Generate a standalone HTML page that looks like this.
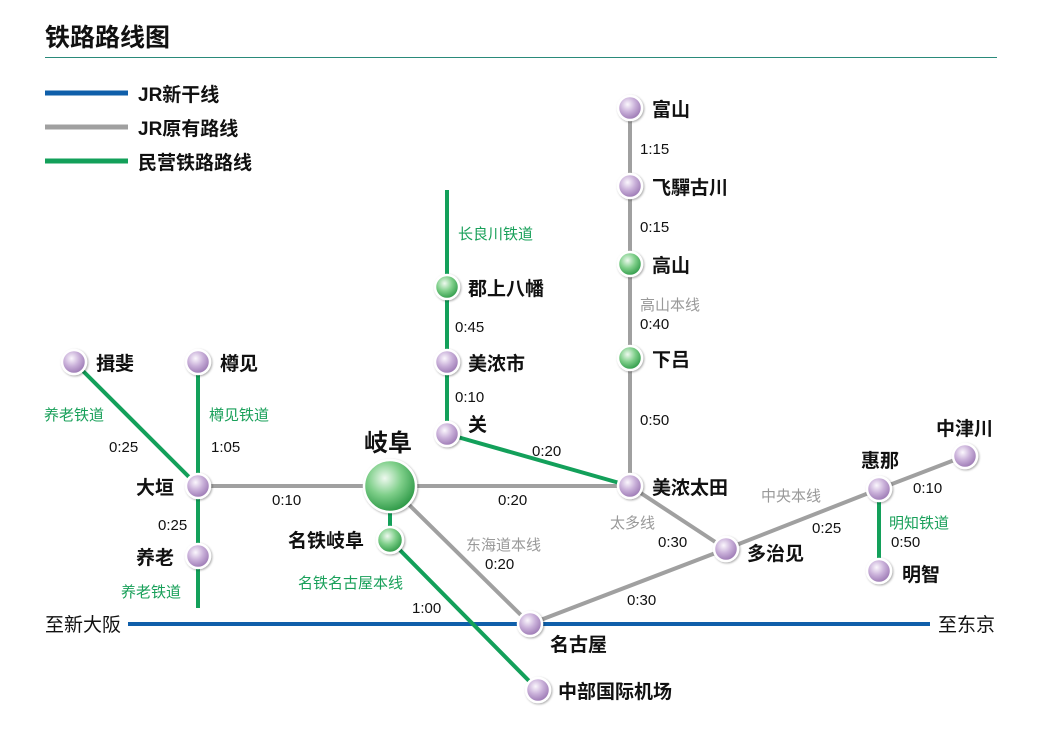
<!DOCTYPE html>
<html><head><meta charset="utf-8"><style>
html,body{margin:0;padding:0;background:#fff;width:1053px;height:735px;overflow:hidden}
svg{display:block;font-family:"Liberation Sans","Noto Sans CJK SC",sans-serif}
.n{font-size:19px;font-weight:bold;fill:#111}
.t{font-size:15px;fill:#111}
.g{font-size:15px;fill:#19a05a}
.r{font-size:15px;fill:#999}
</style></head><body>
<svg width="1053" height="735" viewBox="0 0 1053 735" xmlns="http://www.w3.org/2000/svg">
<defs>
<radialGradient id="p" cx="0.4" cy="0.35" r="0.65"><stop offset="0" stop-color="#fbf7fd"/><stop offset="0.5" stop-color="#c9b0d9"/><stop offset="1" stop-color="#9b78b3"/></radialGradient>
<radialGradient id="gr" cx="0.4" cy="0.35" r="0.65"><stop offset="0" stop-color="#eef9ef"/><stop offset="0.5" stop-color="#7fcf8a"/><stop offset="1" stop-color="#2f9a48"/></radialGradient>
<filter id="s" x="-30%" y="-30%" width="160%" height="160%"><feDropShadow dx="1" dy="1" stdDeviation="1" flood-color="#000" flood-opacity="0.35"/></filter>
</defs>
<text x="45" y="46" style="font-size:25px;font-weight:bold" fill="#111">铁路路线图</text>
<line x1="45" y1="57.5" x2="997" y2="57.5" stroke="#2a8a7a" stroke-width="1"/>
<g stroke-width="5">
<line x1="45" y1="93" x2="128" y2="93" stroke="#0f5faa"/>
<line x1="45" y1="127" x2="128" y2="127" stroke="#a0a0a0"/>
<line x1="45" y1="161" x2="128" y2="161" stroke="#13a05a"/>
</g>
<text x="138" y="101" class="n">JR新干线</text>
<text x="138" y="135" class="n">JR原有路线</text>
<text x="138" y="169" class="n">民营铁路路线</text>

<g stroke-width="4" fill="none">
<line x1="128" y1="624" x2="930" y2="624" stroke="#0f5faa"/>
<g stroke="#a0a0a0">
<line x1="198" y1="486" x2="630" y2="486"/>
<line x1="390" y1="486" x2="530" y2="624"/>
<polyline points="530,624 726,549 879,489 965,456"/>
<line x1="630" y1="486" x2="726" y2="549"/>
<line x1="630" y1="108" x2="630" y2="486"/>
</g>
<g stroke="#13a05a">
<line x1="74" y1="362" x2="198" y2="486"/>
<line x1="198" y1="362" x2="198" y2="608"/>
<line x1="447" y1="190" x2="447" y2="434"/>
<line x1="447" y1="434" x2="630" y2="486"/>
<polyline points="390,486 390,540 538,690"/>
<line x1="879" y1="489" x2="879" y2="571"/>
</g>
</g>

<g stroke="#fff" stroke-width="2.5" filter="url(#s)">
<circle cx="74" cy="362" r="12" fill="url(#p)"/>
<circle cx="198" cy="362" r="12" fill="url(#p)"/>
<circle cx="198" cy="486" r="12" fill="url(#p)"/>
<circle cx="198" cy="556" r="12" fill="url(#p)"/>
<circle cx="390" cy="486" r="26" fill="url(#gr)"/>
<circle cx="390" cy="540" r="13" fill="url(#gr)"/>
<circle cx="530" cy="624" r="12" fill="url(#p)"/>
<circle cx="538" cy="690" r="12" fill="url(#p)"/>
<circle cx="447" cy="434" r="12" fill="url(#p)"/>
<circle cx="447" cy="362" r="12" fill="url(#p)"/>
<circle cx="447" cy="287" r="12" fill="url(#gr)"/>
<circle cx="630" cy="486" r="12" fill="url(#p)"/>
<circle cx="630" cy="358" r="12" fill="url(#gr)"/>
<circle cx="630" cy="264" r="12" fill="url(#gr)"/>
<circle cx="630" cy="186" r="12" fill="url(#p)"/>
<circle cx="630" cy="108" r="12" fill="url(#p)"/>
<circle cx="726" cy="549" r="12" fill="url(#p)"/>
<circle cx="879" cy="489" r="12" fill="url(#p)"/>
<circle cx="879" cy="571" r="12" fill="url(#p)"/>
<circle cx="965" cy="456" r="12" fill="url(#p)"/>
</g>

<text x="96" y="370" class="n">揖斐</text>
<text x="220" y="370" class="n">樽见</text>
<text x="136" y="494" class="n">大垣</text>
<text x="136" y="564" class="n">养老</text>
<text x="364" y="451" class="n" style="font-size:24px">岐阜</text>
<text x="288" y="547" class="n">名铁岐阜</text>
<text x="550" y="651" class="n">名古屋</text>
<text x="558" y="698" class="n">中部国际机场</text>
<text x="468" y="431" class="n">关</text>
<text x="468" y="370" class="n">美浓市</text>
<text x="468" y="295" class="n">郡上八幡</text>
<text x="652" y="494" class="n">美浓太田</text>
<text x="652" y="366" class="n">下吕</text>
<text x="652" y="272" class="n">高山</text>
<text x="652" y="194" class="n">飞驒古川</text>
<text x="652" y="116" class="n">富山</text>
<text x="747" y="560" class="n">多治见</text>
<text x="861" y="467" class="n">惠那</text>
<text x="902" y="581" class="n">明智</text>
<text x="936" y="435" class="n">中津川</text>
<text x="45" y="631" class="n" style="font-weight:normal">至新大阪</text>
<text x="938" y="631" class="n" style="font-weight:normal">至东京</text>

<text x="44" y="420" class="g">养老铁道</text>
<text x="109" y="452" class="t">0:25</text>
<text x="209" y="420" class="g">樽见铁道</text>
<text x="211" y="452" class="t">1:05</text>
<text x="158" y="530" class="t">0:25</text>
<text x="121" y="597" class="g">养老铁道</text>
<text x="272" y="505" class="t">0:10</text>
<text x="498" y="505" class="t">0:20</text>
<text x="466" y="550" class="r">东海道本线</text>
<text x="485" y="569" class="t">0:20</text>
<text x="298" y="588" class="g">名铁名古屋本线</text>
<text x="412" y="613" class="t">1:00</text>
<text x="458" y="239" class="g">长良川铁道</text>
<text x="455" y="332" class="t">0:45</text>
<text x="455" y="402" class="t">0:10</text>
<text x="532" y="456" class="t">0:20</text>
<text x="640" y="154" class="t">1:15</text>
<text x="640" y="232" class="t">0:15</text>
<text x="640" y="310" class="r">高山本线</text>
<text x="640" y="329" class="t">0:40</text>
<text x="640" y="425" class="t">0:50</text>
<text x="610" y="528" class="r">太多线</text>
<text x="658" y="547" class="t">0:30</text>
<text x="761" y="501" class="r">中央本线</text>
<text x="812" y="533" class="t">0:25</text>
<text x="913" y="493" class="t">0:10</text>
<text x="889" y="528" class="g">明知铁道</text>
<text x="891" y="547" class="t">0:50</text>
<text x="627" y="605" class="t">0:30</text>
</svg>
</body></html>
